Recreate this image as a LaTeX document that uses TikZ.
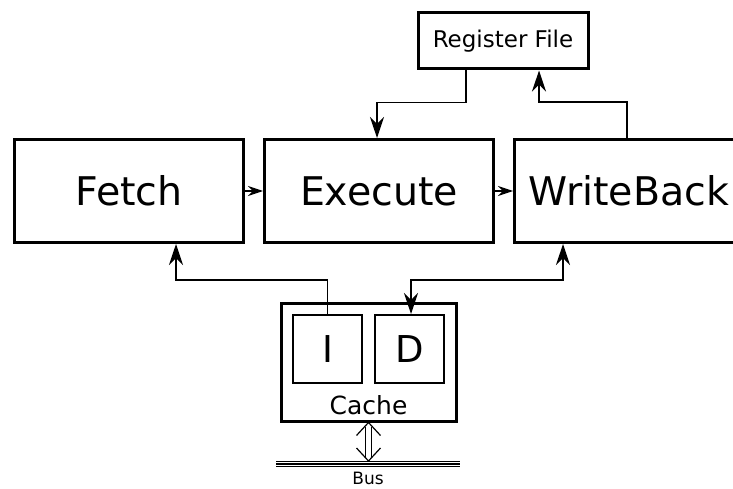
\documentclass[tikz,border=0pt]{standalone}
\usepackage{fontspec}
\setmainfont{DejaVu Sans}
\usetikzlibrary{arrows.meta}

\begin{document}
\begin{tikzpicture}[x=1pt,y=1pt]
\tikzset{
  every node/.style={font=\fontsize{23}{27}\selectfont},
  stage/.style={draw,line width=3pt,minimum width=229pt,minimum height=103pt,font=\fontsize{39.5}{45}\selectfont},
  part/.style={draw,line width=2pt,minimum width=69pt,minimum height=68pt,font=\fontsize{37}{42}\selectfont},
  bigtip/.tip={Stealth[length=21pt,width=14pt,inset=7pt]},
  smalltip/.tip={Stealth[length=15pt,width=10pt,inset=5pt]},
  link/.style={line width=1.3pt,-bigtip},
  flow/.style={line width=1.3pt,-smalltip},
  buswire/.style={line width=1.2pt}
}
\useasboundingbox (0,0) rectangle (733,488);

\node[stage] (fetch) at (129,297) {Fetch};
\node[stage] (execute) at (379,297) {Execute};
\node[stage] (writeback) at (629,297) {WriteBack};
\node[draw,line width=3pt,minimum width=170pt,minimum height=56pt] (regfile) at (503,447) {Register File};

\node[draw,line width=3pt,minimum width=175pt,minimum height=118pt] (cache) at (368.5,126) {};
\node[part] (icache) at (327.5,139) {I};
\node[part] (dcache) at (409.5,139) {D};
\node[font=\fontsize{25}{30}\selectfont] (cachelbl) at (368.5,83) {Cache};

\coordinate (busL) at (276,24);
\coordinate (busR) at (460,24);
\coordinate (bustop) at (368.5,27);
\node[font=\fontsize{17}{20}\selectfont] (bus) at (368,10) {Bus};

% pipeline
\draw[flow] (fetch.east) -- (execute.west);
\draw[flow] (execute.east) -- (writeback.west);

% register file
\draw[link] ([xshift=-37]regfile.south) -- ++(0,-32) -| ([xshift=-2]execute.north);
\draw[link] ([xshift=-2]writeback.north) -- ++(0,36) -| ([xshift=36]regfile.south);

% cache ports
\draw[link] (icache.north) -- ++(0,34) -| ([xshift=47]fetch.south);
\draw[link,bigtip-bigtip] ([xshift=-66]writeback.south) -- ++(0,-36) -| ([xshift=1.5]dcache.north);

% bus
\draw[buswire,double,double distance=3.6pt] (busL) -- (busR);
\draw[buswire] (busL) -- (busR);
\draw[buswire,double,double distance=5pt] ([yshift=-4]cache.south) -- ([yshift=4]bustop);
\draw[buswire] ([xshift=-12,yshift=-13]cache.south) -- (cache.south) -- ([xshift=12,yshift=-13]cache.south);
\draw[buswire] ([xshift=-12,yshift=13]bustop) -- (bustop) -- ([xshift=12,yshift=13]bustop);
\end{tikzpicture}
\end{document}
